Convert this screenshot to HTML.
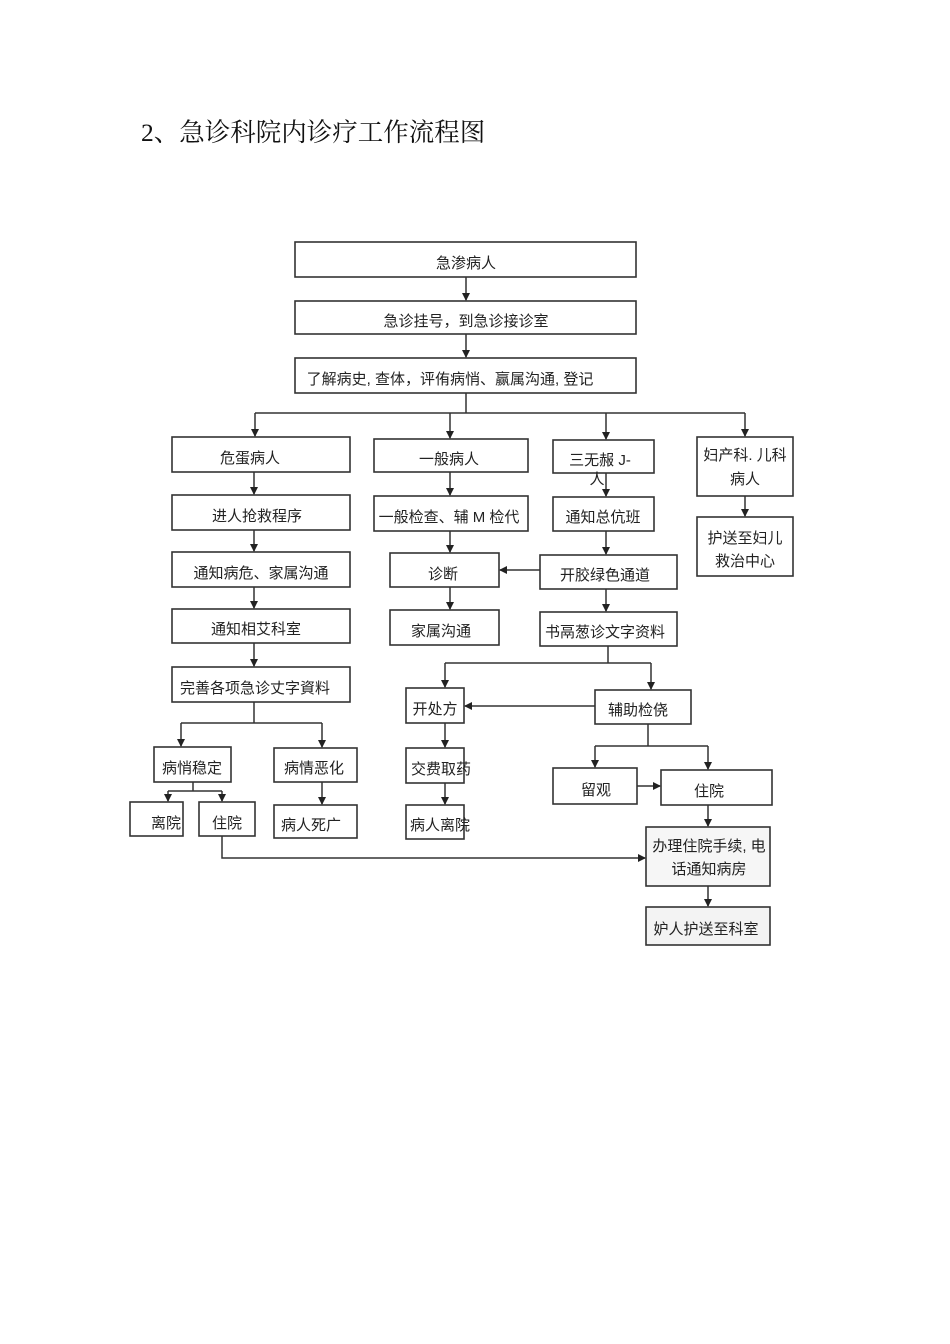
<!DOCTYPE html>
<html><head><meta charset="utf-8"><style>
html,body{margin:0;padding:0;background:#fff;}
svg{display:block;}
text{font-family:"Liberation Sans","Noto Sans CJK SC",sans-serif;font-size:15px;fill:#222;transform:translateY(3px);}
.t{font-family:"Liberation Serif","Noto Serif CJK SC",serif;font-size:25.5px;fill:#111;transform:none;}
rect{fill:#fff;stroke:#333;stroke-width:1.6;}
line,polyline{stroke:#333;stroke-width:1.5;fill:none;}
</style></head><body>
<svg width="950" height="1344" viewBox="0 0 950 1344" xmlns="http://www.w3.org/2000/svg">
<defs><marker id="a" markerWidth="8" markerHeight="8" refX="7" refY="4" orient="auto" markerUnits="userSpaceOnUse"><path d="M0,0 L8,4 L0,8 z" fill="#222"/></marker></defs>
<text class="t" x="141" y="141">2、急诊科院内诊疗工作流程图</text>

<rect x="295" y="242" width="341" height="35"/><text x="466" y="265" text-anchor="middle">急渗病人</text>
<rect x="295" y="301" width="341" height="33"/><text x="466" y="323" text-anchor="middle">急诊挂号，到急诊接诊室</text>
<rect x="295" y="358" width="341" height="35"/><text x="450" y="381" text-anchor="middle">了解病史, 查体，评侑病悄、赢属沟通, 登记</text>

<rect x="172" y="437" width="178" height="35"/><text x="250" y="460" text-anchor="middle">危蛋病人</text>
<rect x="374" y="439" width="154" height="33"/><text x="449" y="461" text-anchor="middle">一般病人</text>
<rect x="553" y="440" width="101" height="33"/><text x="600" y="462" text-anchor="middle">三无赧 J-</text><text x="597" y="481" text-anchor="middle">人</text>
<rect x="697" y="437" width="96" height="59"/><text x="745" y="457" text-anchor="middle">妇产科. 儿科</text><text x="745" y="481" text-anchor="middle">病人</text>

<rect x="172" y="495" width="178" height="35"/><text x="257" y="518" text-anchor="middle">进人抢救程序</text>
<rect x="374" y="496" width="154" height="35"/><text x="449" y="519" text-anchor="middle">一般检查、辅 M 检代</text>
<rect x="553" y="497" width="101" height="34"/><text x="603" y="519" text-anchor="middle">通知总伉班</text>
<rect x="697" y="517" width="96" height="59"/><text x="745" y="540" text-anchor="middle">护送至妇儿</text><text x="745" y="563" text-anchor="middle">救治中心</text>

<rect x="172" y="552" width="178" height="35"/><text x="261" y="575" text-anchor="middle">通知病危、家属沟通</text>
<rect x="390" y="553" width="109" height="34"/><text x="443" y="576" text-anchor="middle">诊断</text>
<rect x="540" y="555" width="137" height="34"/><text x="605" y="577" text-anchor="middle">开胶绿色通道</text>

<rect x="172" y="609" width="178" height="34"/><text x="256" y="631" text-anchor="middle">通知相艾科室</text>
<rect x="390" y="610" width="109" height="35"/><text x="441" y="633" text-anchor="middle">家属沟通</text>
<rect x="540" y="612" width="137" height="34"/><text x="605" y="634" text-anchor="middle">书鬲葱诊文字资料</text>

<rect x="172" y="667" width="178" height="35"/><text x="255" y="690" text-anchor="middle">完善各项急诊丈字資料</text>

<rect x="406" y="688" width="58" height="35"/><text x="435" y="711" text-anchor="middle">开处方</text>
<rect x="595" y="690" width="96" height="34"/><text x="638" y="712" text-anchor="middle">辅助检侥</text>

<rect x="154" y="747" width="77" height="35"/><text x="192" y="770" text-anchor="middle">病悄稳定</text>
<rect x="274" y="748" width="83" height="34"/><text x="314" y="770" text-anchor="middle">病情恶化</text>
<rect x="406" y="748" width="58" height="35"/><text x="441" y="771" text-anchor="middle">交费取药</text>
<rect x="553" y="768" width="84" height="36"/><text x="596" y="792" text-anchor="middle">留观</text>
<rect x="661" y="770" width="111" height="35"/><text x="709" y="793" text-anchor="middle">住院</text>

<rect x="130" y="802" width="53" height="34"/><text x="166" y="825" text-anchor="middle">离院</text>
<rect x="199" y="802" width="56" height="34"/><text x="227" y="825" text-anchor="middle">住院</text>
<rect x="274" y="805" width="83" height="33"/><text x="311" y="827" text-anchor="middle">病人死广</text>
<rect x="406" y="805" width="58" height="34"/><text x="440" y="827" text-anchor="middle">病人离院</text>

<rect x="646" y="827" width="124" height="59" style="fill:#f6f6f6"/><text x="709" y="848" text-anchor="middle">办理住院手续, 电</text><text x="709" y="871" text-anchor="middle">话通知病房</text>
<rect x="646" y="907" width="124" height="38" style="fill:#f3f3f3"/><text x="706" y="931" text-anchor="middle">妒人护送至科室</text>

<line x1="466" y1="277" x2="466" y2="300" marker-end="url(#a)"/>
<line x1="466" y1="334" x2="466" y2="357" marker-end="url(#a)"/>
<line x1="466" y1="393" x2="466" y2="413"/>
<line x1="255" y1="413" x2="745" y2="413"/>
<line x1="255" y1="413" x2="255" y2="436" marker-end="url(#a)"/>
<line x1="450" y1="413" x2="450" y2="438" marker-end="url(#a)"/>
<line x1="606" y1="413" x2="606" y2="439" marker-end="url(#a)"/>
<line x1="745" y1="413" x2="745" y2="436" marker-end="url(#a)"/>

<line x1="254" y1="472" x2="254" y2="494" marker-end="url(#a)"/>
<line x1="450" y1="472" x2="450" y2="495" marker-end="url(#a)"/>
<line x1="606" y1="473" x2="606" y2="496" marker-end="url(#a)"/>
<line x1="745" y1="496" x2="745" y2="516" marker-end="url(#a)"/>

<line x1="254" y1="530" x2="254" y2="551" marker-end="url(#a)"/>
<line x1="450" y1="531" x2="450" y2="552" marker-end="url(#a)"/>
<line x1="606" y1="531" x2="606" y2="554" marker-end="url(#a)"/>
<line x1="540" y1="570" x2="500" y2="570" marker-end="url(#a)"/>

<line x1="254" y1="587" x2="254" y2="608" marker-end="url(#a)"/>
<line x1="450" y1="587" x2="450" y2="609" marker-end="url(#a)"/>
<line x1="606" y1="589" x2="606" y2="611" marker-end="url(#a)"/>

<line x1="254" y1="643" x2="254" y2="666" marker-end="url(#a)"/>
<line x1="608" y1="646" x2="608" y2="663"/>
<line x1="445" y1="663" x2="651" y2="663"/>
<line x1="445" y1="663" x2="445" y2="687" marker-end="url(#a)"/>
<line x1="651" y1="663" x2="651" y2="689" marker-end="url(#a)"/>
<line x1="595" y1="706" x2="465" y2="706" marker-end="url(#a)"/>
<line x1="445" y1="723" x2="445" y2="747" marker-end="url(#a)"/>
<line x1="445" y1="783" x2="445" y2="804" marker-end="url(#a)"/>

<line x1="648" y1="724" x2="648" y2="746"/>
<line x1="595" y1="746" x2="708" y2="746"/>
<line x1="595" y1="746" x2="595" y2="767" marker-end="url(#a)"/>
<line x1="708" y1="746" x2="708" y2="769" marker-end="url(#a)"/>
<line x1="637" y1="786" x2="660" y2="786" marker-end="url(#a)"/>
<line x1="708" y1="805" x2="708" y2="826" marker-end="url(#a)"/>
<line x1="708" y1="886" x2="708" y2="906" marker-end="url(#a)"/>

<line x1="254" y1="702" x2="254" y2="723"/>
<line x1="181" y1="723" x2="322" y2="723"/>
<line x1="181" y1="723" x2="181" y2="746" marker-end="url(#a)"/>
<line x1="322" y1="723" x2="322" y2="747" marker-end="url(#a)"/>
<line x1="322" y1="782" x2="322" y2="804" marker-end="url(#a)"/>
<line x1="193" y1="782" x2="193" y2="791"/>
<line x1="168" y1="791" x2="222" y2="791"/>
<line x1="168" y1="791" x2="168" y2="801" marker-end="url(#a)"/>
<line x1="222" y1="791" x2="222" y2="801" marker-end="url(#a)"/>
<polyline points="222,836 222,858 645,858" marker-end="url(#a)"/>
</svg>
</body></html>
